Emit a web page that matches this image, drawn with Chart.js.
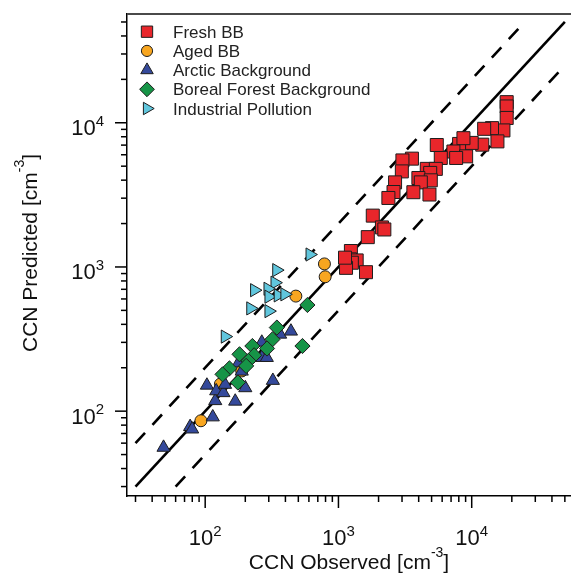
<!DOCTYPE html>
<html>
<head>
<meta charset="utf-8">
<script src="https://cdn.jsdelivr.net/npm/chart.js@4.4.0/dist/chart.umd.min.js"></script>
<style>
  html, body { margin: 0; padding: 0; background: #fff; }
  canvas { display: block; }
</style>
</head>
<body>
<canvas id="ccn" width="571" height="574"></canvas>
<script>
const freshObs  = [18300, 18300, 18300, 17300, 14200, 12400, 15600, 12000, 10000, 8040, 8670, 7290, 9080, 7640, 5470, 5860, 3560, 3020, 2990, 4600, 5380, 4880, 3980, 4930, 4150, 2660, 2590, 2370, 3650, 4820, 1810, 2120, 2210, 1660, 1240, 1220, 1370, 1260, 1140, 1610, 1120];
const freshPred = [13900, 12970, 10800, 8850, 9180, 9080, 7430, 7050, 7250, 7130, 7820, 6320, 5850, 5700, 7010, 5700, 5640, 5480, 4600, 4790, 4790, 4490, 4140, 3990, 3860, 3860, 3310, 3010, 3300, 3180, 2270, 1880, 1820, 1610, 1290, 1130, 1110, 1070, 986, 920, 1160];

const agedObs  = [785, 795, 479, 188, 130, 92.9];
const agedPred = [1050, 855, 628, 190, 154, 85.8];

const arcticObs  = [48.7, 77.1, 79.8, 114, 119, 168, 103, 121, 137, 141, 200, 322, 188, 178, 266, 290, 266, 365, 440];
const arcticPred = [56, 78, 75, 91, 118, 117, 151, 138, 134, 153, 145, 163, 189, 216, 235, 235, 300, 341, 358];

const borealObs  = [585, 345, 320, 537, 226, 291, 181, 233, 211, 203, 152, 135, 176];
const borealPred = [545, 380, 315, 283, 283, 272, 248, 244, 223, 206, 198, 180, 158];

const industrialObs  = [610, 343, 333, 234, 295, 300, 352, 395, 219, 300, 141];
const industrialPred = [1220, 951, 778, 690, 706, 622, 635, 646, 516, 494, 329];

// reference lines: 1:1 and factor-of-two bounds
const oneToOneX = [30, 50000];
const oneToOneY = [30, 50000];
const upperX = [30, 25000];
const upperY = [60, 50000];
const lowerX = [60, 50000];
const lowerY = [30, 25000];

// axis ticks
const majorTicks = [100, 1000, 10000];
const minorTicks = [30, 40, 50, 60, 70, 80, 90, 200, 300, 400, 500, 600, 700, 800, 900,
                    2000, 3000, 4000, 5000, 6000, 7000, 8000, 9000, 20000, 30000, 40000, 50000];
const tickExp = ['2', '3', '4'];

const FONT = "'Liberation Sans', Arial, Helvetica, sans-serif";

const pts = (xs, ys) => xs.map((v, i) => ({ x: v, y: ys[i] }));

const series = [
  { label: 'Fresh BB', obs: freshObs, pred: freshPred, color: '#e8262b', style: 'rect', r: 9.2, rot: 0, order: 5, legendR: 8 },
  { label: 'Aged BB', obs: agedObs, pred: agedPred, color: '#f8a620', style: 'circle', r: 6, rot: 0, order: 4, legendR: 5.6 },
  { label: 'Arctic Background', obs: arcticObs, pred: arcticPred, color: '#34499b', style: 'triangle', r: 7.6, rot: 0, order: 3, legendR: 7.2 },
  { label: 'Boreal Forest Background', obs: borealObs, pred: borealPred, color: '#169447', style: 'rectRot', r: 7.6, rot: 0, order: 2, legendR: 7.4 },
  { label: 'Industrial Pollution', obs: industrialObs, pred: industrialPred, color: '#60c6dd', style: 'triangle', r: 7.6, rot: 90, order: 1, legendR: 7.2 }
];

const refLine = (xs, ys, dash) => ({
  type: 'line', data: pts(xs, ys), borderColor: '#000', borderWidth: 2.6,
  borderDash: dash, pointRadius: 0, fill: false, order: 10, showLine: true
});

const datasets = [
  refLine(oneToOneX, oneToOneY, []),
  refLine(upperX, upperY, [14, 11]),
  refLine(lowerX, lowerY, [14, 11])
].concat(series.map(s => ({
  label: s.label, data: pts(s.obs, s.pred),
  pointStyle: s.style, pointRadius: s.r, pointRotation: s.rot,
  backgroundColor: s.color, borderColor: '#1e1e1e', borderWidth: 1, order: s.order
})));

function shape(ctx, style, r, rot, x, y) {
  if (Chart.helpers && Chart.helpers.drawPoint) {
    Chart.helpers.drawPoint(ctx, { pointStyle: style, radius: r, rotation: rot, borderWidth: 1 }, x, y);
  }
}

function powLabel(ctx, exp, left, base, supBase) {
  ctx.font = '22px ' + FONT;
  ctx.fillText('10', left, base);
  const w = ctx.measureText('10').width;
  ctx.font = '15px ' + FONT;
  ctx.fillText(exp, left + w, supBase);
}
function powWidth(ctx, exp) {
  ctx.font = '22px ' + FONT;
  const w = ctx.measureText('10').width;
  ctx.font = '15px ' + FONT;
  return w + ctx.measureText(exp).width;
}

const decor = {
  id: 'decor',
  afterDraw(chart) {
    const { ctx, chartArea: a, scales: { x, y } } = chart;
    ctx.save();
    // top frame line
    ctx.strokeStyle = '#4a4a4a';
    ctx.lineWidth = 2;
    ctx.beginPath(); ctx.moveTo(a.left, a.top); ctx.lineTo(a.right, a.top); ctx.stroke();

    // tick marks, outward
    ctx.strokeStyle = '#000';
    ctx.lineWidth = 1.5;
    const tick = (v, len) => {
      const px = x.getPixelForValue(v);
      if (px >= a.left && px <= a.right) {
        ctx.beginPath(); ctx.moveTo(px, a.bottom); ctx.lineTo(px, a.bottom + len); ctx.stroke();
      }
      const py = y.getPixelForValue(v);
      if (py >= a.top && py <= a.bottom) {
        ctx.beginPath(); ctx.moveTo(a.left, py); ctx.lineTo(a.left - len, py); ctx.stroke();
      }
    };
    minorTicks.forEach(v => tick(v, 6));
    majorTicks.forEach(v => tick(v, 12));

    // tick labels 10^n
    ctx.fillStyle = '#111';
    ctx.textBaseline = 'alphabetic';
    ctx.textAlign = 'left';
    majorTicks.forEach((v, i) => {
      const w = powWidth(ctx, tickExp[i]);
      const px = x.getPixelForValue(v);
      powLabel(ctx, tickExp[i], px - w / 2, 545, 536);
      const py = y.getPixelForValue(v);
      powLabel(ctx, tickExp[i], 104 - w, py + 12.5, py + 3);
    });

    // axis titles with superscript
    const title = (main, sup, end, cx, base, raise) => {
      ctx.font = '21px ' + FONT;
      const w1 = ctx.measureText(main).width;
      const w3 = ctx.measureText(end).width;
      ctx.font = '14px ' + FONT;
      const w2 = ctx.measureText(sup).width;
      let left = cx - (w1 + w2 + w3) / 2;
      ctx.font = '21px ' + FONT;
      ctx.fillText(main, left, base);
      ctx.font = '14px ' + FONT;
      ctx.fillText(sup, left + w1, base - raise);
      ctx.font = '21px ' + FONT;
      ctx.fillText(end, left + w1 + w2, base);
    };
    title('CCN Observed [cm', '-3', ']', (a.left + a.right) / 2, 569, 12);
    ctx.save();
    ctx.translate(37, (a.top + a.bottom) / 2 - 2);
    ctx.rotate(-Math.PI / 2);
    title('CCN Predicted [cm', '-3', ']', 0, 0, 13);
    ctx.restore();

    // legend inside plot
    series.forEach((s, i) => {
      const cy = 31.7 + i * 19.2;
      ctx.fillStyle = s.color;
      ctx.strokeStyle = '#1e1e1e';
      ctx.lineWidth = 1;
      shape(ctx, s.style, s.legendR, s.rot, 147, cy);
      ctx.fillStyle = '#222';
      ctx.font = '17px ' + FONT;
      ctx.fillText(s.label, 173, cy + 6);
    });
    ctx.restore();
  }
};

new Chart(document.getElementById('ccn').getContext('2d'), {
  type: 'scatter',
  data: { datasets },
  options: {
    responsive: false,
    animation: false,
    devicePixelRatio: 1,
    layout: { autoPadding: false, padding: { top: 14, right: 0, left: 0, bottom: 0 } },
    plugins: { legend: { display: false }, tooltip: { enabled: false } },
    scales: {
      x: {
        type: 'logarithmic', min: 25.9, max: 55600,
        afterFit(s) { s.height = 78; },
        ticks: { display: false }, grid: { display: false },
        border: { display: true, color: '#000', width: 1.5 }
      },
      y: {
        type: 'logarithmic', min: 25.8, max: 56800,
        afterFit(s) { s.width = 127; },
        ticks: { display: false }, grid: { display: false },
        border: { display: true, color: '#000', width: 1.5 }
      }
    }
  },
  plugins: [decor]
});
</script>
</body>
</html>
